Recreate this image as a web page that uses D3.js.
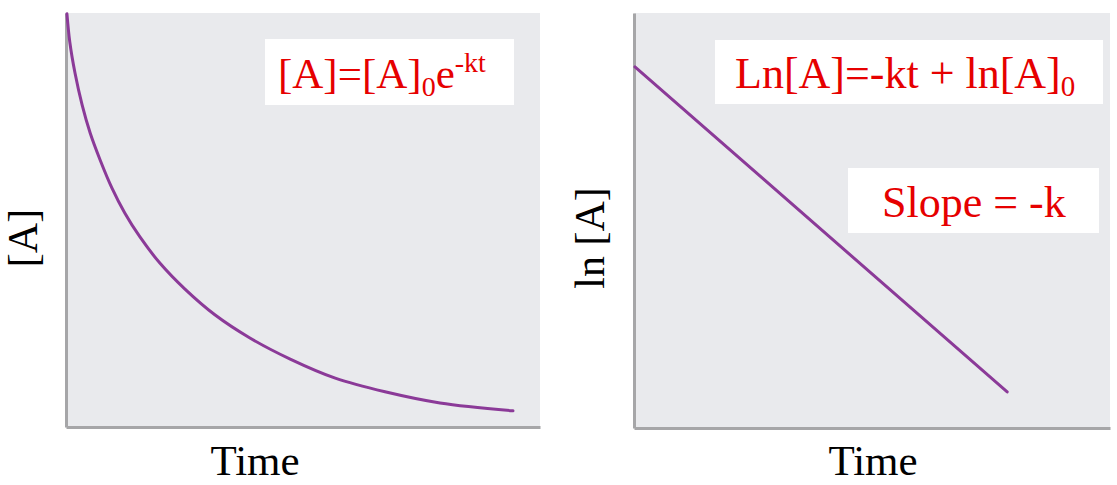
<!DOCTYPE html>
<html>
<head>
<meta charset="utf-8">
<script src="https://cdn.jsdelivr.net/npm/d3@7"></script>
<style>
  body { margin: 0; background: #fff; }
  svg { display: block; font-family: "Liberation Serif", "Times New Roman", serif; }
</style>
</head>
<body>
<div id="chart"></div>
<script>
// first order decay, [A] vs time
var decayTime = [0.02, 0.08, 0.19, 0.34, 0.51, 0.72, 0.97, 1.24, 1.56, 1.98, 2.51, 3.14, 3.88, 4.73, 5.68, 6.73, 7.89, 9.43];
var decayConc = [0.998, 0.930, 0.855, 0.778, 0.710, 0.645, 0.577, 0.517, 0.459, 0.396, 0.333, 0.271, 0.215, 0.164, 0.118, 0.085, 0.058, 0.039];

// ln[A] vs time, straight line
var lnTime = [0.02, 7.84];
var lnConc = [0.870, 0.087];

var panels = [
    { x0: 66, x1: 540, y0: 13, y1: 427, t: decayTime, v: decayConc, yLabel: "[A]", yLabelX: 37, timeX: 255 },
    { x0: 634, x1: 1110, y0: 13, y1: 428, t: lnTime, v: lnConc, yLabel: "ln [A]", yLabelX: 604, timeX: 873 }
];

var svg = d3.select("#chart")
    .append("svg")
    .attr("width", 1117)
    .attr("height", 485);

var red = "#e60000";

panels.forEach(function (p) {
    var x = d3.scaleLinear().domain([0, 10]).range([p.x0, p.x1]);
    var y = d3.scaleLinear().domain([0, 1]).range([p.y1, p.y0]);

    // grey plot area
    svg.append("rect")
        .attr("x", p.x0)
        .attr("y", p.y0)
        .attr("width", p.x1 - p.x0)
        .attr("height", p.y1 - p.y0)
        .attr("fill", "#e9eaed");

    // axis lines only, no ticks
    var gx = svg.append("g")
        .attr("transform", "translate(0," + p.y1 + ")")
        .call(d3.axisBottom(x).tickValues([]).tickSizeOuter(0));
    var gy = svg.append("g")
        .attr("transform", "translate(" + p.x0 + ",0)")
        .call(d3.axisLeft(y).tickValues([]).tickSizeOuter(0));
    [gx, gy].forEach(function (g) {
        g.select(".domain").attr("stroke", "#a6a6a8").attr("stroke-width", 3);
    });

    var pts = p.t.map(function (t, j) { return [t, p.v[j]]; });
    var line = d3.line()
        .x(function (d) { return x(d[0]); })
        .y(function (d) { return y(d[1]); })
        .curve(d3.curveCatmullRom.alpha(0.5));

    svg.append("path")
        .datum(pts)
        .attr("d", line)
        .attr("fill", "none")
        .attr("stroke", "#8b3a98")
        .attr("stroke-width", 3)
        .attr("stroke-linecap", "round");

    // axis titles
    svg.append("text")
        .attr("transform", "translate(" + p.yLabelX + ",238) rotate(-90)")
        .attr("text-anchor", "middle")
        .attr("font-size", "42px")
        .attr("fill", "#000")
        .text(p.yLabel);

    svg.append("text")
        .attr("x", p.timeX)
        .attr("y", 475)
        .attr("text-anchor", "middle")
        .attr("font-size", "43px")
        .attr("fill", "#000")
        .text("Time");
});

// formula boxes
function box(x, y, w, h) {
    svg.append("rect")
        .attr("x", x).attr("y", y)
        .attr("width", w).attr("height", h)
        .attr("fill", "#fff");
}

box(265, 39, 249, 66);
box(715, 40, 388, 64);
box(848, 168, 251, 65);

var f1 = svg.append("text")
    .attr("x", 278).attr("y", 88)
    .attr("font-size", "43px")
    .attr("fill", red);
f1.append("tspan").text("[A]=[A]");
f1.append("tspan").attr("font-size", "28px").attr("dy", 8).text("0");
f1.append("tspan").attr("dy", -8).text("e");
f1.append("tspan").attr("font-size", "28px").attr("dy", -16).text("-kt");

var f2 = svg.append("text")
    .attr("x", 735).attr("y", 88)
    .attr("font-size", "44px")
    .attr("fill", red);
f2.append("tspan").text("Ln[A]=-kt + ln[A]");
f2.append("tspan").attr("font-size", "29px").attr("dy", 8).text("0");

svg.append("text")
    .attr("x", 882).attr("y", 217)
    .attr("font-size", "44px")
    .attr("fill", red)
    .text("Slope = -k");
</script>
</body>
</html>
